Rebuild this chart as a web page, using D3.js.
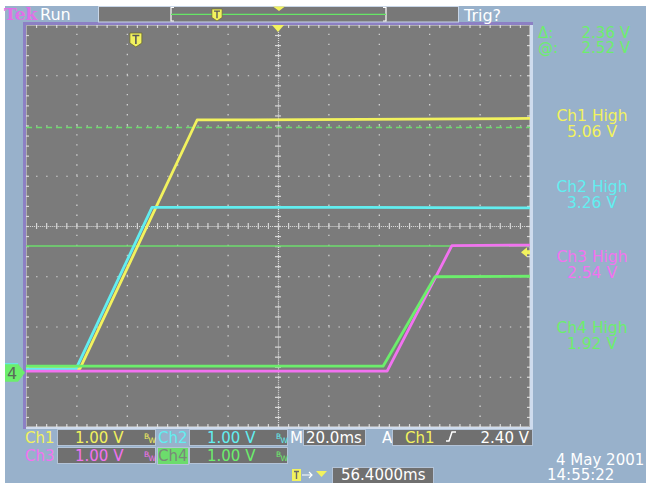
<!DOCTYPE html>
<html><head><meta charset="utf-8">
<script src="https://cdn.jsdelivr.net/npm/d3@7/dist/d3.min.js"></script>
<style>body{margin:0;background:#fff}svg{display:block}text{font-family:"DejaVu Sans",sans-serif}</style>
</head><body>
<svg id="c" width="646" height="483"></svg>
<script>
// ---- settings / data ----
const msPerDiv = 20;           // M 20.0ms
const delayMs = 56.4;          // horizontal delay (screen centre)
const timeDomain = [delayMs - 5 * msPerDiv, delayMs + 5 * msPerDiv];
const vPerDiv = 1.0;
const voltDomain = [-1.08, 6.92];   // 8 divisions, ground near bottom
// traces: [time ms, volts]
const ch1 = [[-43.6, 0.08], [-22.2, 0.08], [24.3, 5.03], [90, 5.04], [156.4, 5.06]];
const ch2 = [[-43.6, 0.07], [-23.8, 0.07], [6.4, 3.29], [90, 3.29], [156.4, 3.28]];
const ch3 = [[-43.6, 0.03], [99.7, 0.03], [125.4, 2.53], [156.4, 2.54]];
const ch4 = [[-43.6, 0.13], [98.1, 0.13], [118.7, 1.91], [156.4, 1.92]];
const channelColors = ["#f2f25e", "#62eef0", "#f272f0", "#6cee6c"];
const cursorAt = 2.52, cursorDelta = 2.36;
const triggerLevel = 2.40;
const highLabels = ["Ch1 High", "Ch2 High", "Ch3 High", "Ch4 High"];
const highValues = ["5.06 V", "3.26 V", "2.54 V", "1.92 V"];
const scaleLabels = ["1.00 V", "1.00 V", "1.00 V", "1.00 V"];

// ---- layout ----
const L = 26, R = 530, T = 25, B = 427;
const svg = d3.select("#c");
const x = d3.scaleLinear().domain(timeDomain).range([L, R]);
const y = d3.scaleLinear().domain(voltDomain).range([B, T]);

svg.append("rect").attr("width", 646).attr("height", 483).attr("fill", "#fff");
svg.append("rect").attr("x", 5).attr("y", 6).attr("width", 641).attr("height", 477).attr("fill", "#98b1cb");

// plot bevel
svg.append("rect").attr("x", 23).attr("y", 22).attr("width", 510).attr("height", 407).attr("fill", "#cfdcee");
svg.append("rect").attr("x", 23).attr("y", 22).attr("width", 510).attr("height", 3).attr("fill", "#8c80c4");
svg.append("rect").attr("x", 23).attr("y", 22).attr("width", 3).attr("height", 407).attr("fill", "#8c80c4");
svg.append("rect").attr("x", L).attr("y", T).attr("width", R - L).attr("height", B - T).attr("fill", "#7b7b7b");

const gridCol = "#d8d8d8";
const minorX = (R - L) / 50, minorY = (B - T) / 40;
const majorT = d3.range(1, 10).filter(i => i !== 5).map(i => timeDomain[0] + i * msPerDiv);
const majorV = d3.range(1, 8).filter(i => i !== 4).map(i => voltDomain[0] + i * vPerDiv);
const minorT = d3.range(1, 50).map(i => timeDomain[0] + i * msPerDiv / 5);
const minorV = d3.range(1, 40).map(i => voltDomain[0] + i * vPerDiv / 5);
const centerT = timeDomain[0] + 5 * msPerDiv, centerV = voltDomain[0] + 4 * vPerDiv;

function styleAxis(g, dash) {
  g.select(".domain").remove();
  g.selectAll("text").remove();
  g.selectAll("line").attr("stroke", gridCol).attr("stroke-width", 1.2);
  if (dash) g.selectAll("line").attr("stroke-dasharray", dash);
}
// dotted major grid
svg.append("g").attr("transform", `translate(0,${B})`)
  .call(d3.axisBottom(x).tickValues(majorT).tickSize(-(B - T)))
  .call(g => styleAxis(g, `1.4 ${minorY - 1.4}`));
svg.append("g").attr("transform", `translate(${L},0)`)
  .call(d3.axisLeft(y).tickValues(majorV).tickSize(-(R - L)))
  .call(g => styleAxis(g, `1.4 ${minorX - 1.4}`));
// centre lines (finer dots)
svg.append("g").attr("transform", `translate(0,${B})`)
  .call(d3.axisBottom(x).tickValues([centerT]).tickSize(-(B - T)))
  .call(g => styleAxis(g, `1.1 ${minorY / 5 - 1.1}`));
svg.append("g").attr("transform", `translate(${L},0)`)
  .call(d3.axisLeft(y).tickValues([centerV]).tickSize(-(R - L)))
  .call(g => styleAxis(g, `1.1 ${minorX / 5 - 1.1}`));
// centre tick marks
svg.append("g").attr("transform", `translate(${x(centerT)},0)`).call(d3.axisLeft(y).tickValues(minorV).tickSize(3)).call(g => styleAxis(g));
svg.append("g").attr("transform", `translate(${x(centerT)},0)`).call(d3.axisRight(y).tickValues(minorV).tickSize(3)).call(g => styleAxis(g));
svg.append("g").attr("transform", `translate(0,${y(centerV)})`).call(d3.axisTop(x).tickValues(minorT).tickSize(3)).call(g => styleAxis(g));
svg.append("g").attr("transform", `translate(0,${y(centerV)})`).call(d3.axisBottom(x).tickValues(minorT).tickSize(3)).call(g => styleAxis(g));
// edge ticks
svg.append("g").attr("transform", `translate(0,${T})`).call(d3.axisTop(x).tickValues(minorT).tickSize(-3)).call(g => styleAxis(g));
svg.append("g").attr("transform", `translate(0,${B})`).call(d3.axisBottom(x).tickValues(minorT).tickSize(-3)).call(g => styleAxis(g));
svg.append("g").attr("transform", `translate(${L},0)`).call(d3.axisLeft(y).tickValues(minorV).tickSize(-3)).call(g => styleAxis(g));
svg.append("g").attr("transform", `translate(${R},0)`).call(d3.axisRight(y).tickValues(minorV).tickSize(-3)).call(g => styleAxis(g));
svg.append("rect").attr("x", L + 0.5).attr("y", T + 0.5).attr("width", R - L - 1).attr("height", B - T - 1)
  .attr("fill", "none").attr("stroke", "#e2e2e2").attr("stroke-dasharray", "1 1");

// cursors
svg.append("line").attr("x1", L).attr("x2", R).attr("y1", y(cursorAt)).attr("y2", y(cursorAt))
  .attr("stroke", "#6cdc6c").attr("stroke-width", 1.5);
svg.append("line").attr("x1", L).attr("x2", R).attr("y1", y(cursorAt + cursorDelta)).attr("y2", y(cursorAt + cursorDelta))
  .attr("stroke", "#6cdc6c").attr("stroke-width", 1.5).attr("stroke-dasharray", "6 4");

// traces
svg.append("clipPath").attr("id", "pc").append("rect").attr("x", L).attr("y", T).attr("width", R - L).attr("height", B - T);
const line = d3.line().x(d => x(d[0])).y(d => y(d[1]));
[ch1, ch2, ch3, ch4].forEach((d, i) => {
  svg.append("path").attr("d", line(d)).attr("clip-path", "url(#pc)").attr("fill", "none")
    .attr("stroke", channelColors[i]).attr("stroke-width", 2.8).attr("stroke-linejoin", "round");
});

// markers
function tIcon(cx, ty, s) {
  const g = svg.append("g").attr("transform", `translate(${cx},${ty}) scale(${s})`);
  g.append("path").attr("d", "M-6,0 L6,0 L6,10 L0,14 L-6,10 Z").attr("fill", "#f2f25e").attr("stroke", "#6a6a30").attr("stroke-width", 0.8);
  g.append("path").attr("d", "M-3.5,2.5 L3.5,2.5 M0,2.5 L0,11").attr("stroke", "#5a5a5a").attr("stroke-width", 1.6);
}
tIcon(x(0), 33, 1);
svg.append("path").attr("d", `M${x(centerT) - 6},${T} L${x(centerT) + 6},${T} L${x(centerT)},${T + 7} Z`).attr("fill", "#f2f25e");
const ty = y(triggerLevel);
svg.append("path").attr("d", `M${R - 9},${ty} L${R - 3},${ty - 5} L${R - 3},${ty - 2} L${R},${ty - 2} L${R},${ty + 2} L${R - 3},${ty + 2} L${R - 3},${ty + 5} Z`).attr("fill", "#f2f25e");
const gy = y(0);
svg.append("path").attr("d", `M5,${gy - 9} L18,${gy - 9} L25,${gy} L18,${gy + 9} L5,${gy + 9} Z`).attr("fill", "#6cee6c");
svg.append("line").attr("x1", 5).attr("x2", 18).attr("y1", gy - 9).attr("y2", gy - 9).attr("stroke", "#62eef0").attr("stroke-width", 1);
svg.append("text").attr("x", 12).attr("y", gy + 6).attr("text-anchor", "middle").attr("font-size", 16).attr("fill", "#5a6a5a").text("4");

// ---- top bar ----
svg.append("text").attr("x", 4).attr("y", 20).style("font-family", "'DejaVu Serif',serif")
  .attr("font-weight", "bold").attr("font-size", 17).attr("fill", "#e070e8").text("Tek");
svg.append("text").attr("x", 40).attr("y", 20).attr("font-size", 16).attr("fill", "#ffffff").text("Run");
svg.append("rect").attr("x", 98.5).attr("y", 6.5).attr("width", 360).attr("height", 15.5).attr("fill", "#787878").attr("stroke", "#c8d6e8");
const bx0 = 171, bx1 = 386;
svg.append("path").attr("d", `M${bx0 + 3},7.5 L${bx0},7.5 L${bx0},21 L${bx0 + 3},21 M${bx1 - 3},7.5 L${bx1},7.5 L${bx1},21 L${bx1 - 3},21`)
  .attr("fill", "none").attr("stroke", "#fff").attr("stroke-width", 1.2);
svg.append("line").attr("x1", bx0).attr("x2", bx1).attr("y1", 14.3).attr("y2", 14.3).attr("stroke", "#66e666").attr("stroke-width", 1.3);
tIcon(217, 9, 0.85);
svg.append("path").attr("d", "M273,6.5 L285,6.5 L279,11 Z").attr("fill", "#f2f25e");
svg.append("text").attr("x", 464).attr("y", 21).attr("font-size", 16).attr("fill", "#fff").text("Trig?");

// ---- right panel ----
const green = "#6cee6c";
svg.append("text").attr("x", 538).attr("y", 38).attr("font-size", 15).attr("fill", green).text("\u0394:");
svg.append("text").attr("x", 630).attr("y", 38).attr("text-anchor", "end").attr("font-size", 15).attr("fill", green).text(cursorDelta.toFixed(2) + " V");
svg.append("text").attr("x", 538).attr("y", 53).attr("font-size", 15).attr("fill", green).text("@:");
svg.append("text").attr("x", 630).attr("y", 53).attr("text-anchor", "end").attr("font-size", 15).attr("fill", green).text(cursorAt.toFixed(2) + " V");
const labelY = [121, 192, 262, 333];
highLabels.forEach((t, i) => {
  svg.append("text").attr("x", 592).attr("y", labelY[i]).attr("text-anchor", "middle").attr("font-size", 15.5).attr("fill", channelColors[i]).text(t);
  svg.append("text").attr("x", 592).attr("y", labelY[i] + 15.5).attr("text-anchor", "middle").attr("font-size", 15.5).attr("fill", channelColors[i]).text(highValues[i]);
});

// ---- bottom readouts ----
function box(x0, y0, w, h, fill) {
  svg.append("rect").attr("x", x0 + 0.5).attr("y", y0 + 0.5).attr("width", w).attr("height", h).attr("fill", fill || "#707070").attr("stroke", "#b4c4d8");
}
function bw(xx, yy, c) {
  svg.append("text").attr("x", xx).attr("y", yy).attr("font-size", 7.5).attr("fill", c).text("B");
  svg.append("text").attr("x", xx + 4.5).attr("y", yy + 4).attr("font-size", 7.5).attr("fill", c).text("W");
}
const rowY = [443, 461];
const chX = [[25, 57], [158, 189], [25, 57], [158, 189]];
[0, 1, 2, 3].forEach(i => {
  const r = i < 2 ? 0 : 1;
  const lx = chX[i][0], bxs = chX[i][1];
  if (i === 3) box(157, 447, 31, 17, "#6cdc6c");
  svg.append("text").attr("x", lx).attr("y", rowY[r]).attr("font-size", 15).attr("fill", i === 3 ? "#7a887a" : channelColors[i]).text("Ch" + (i + 1));
  box(bxs, r ? 447 : 429, 98, 16);
  svg.append("text").attr("x", bxs + 18).attr("y", rowY[r]).attr("font-size", 15).attr("fill", channelColors[i]).text(scaleLabels[i]);
  bw(bxs + 87, rowY[r] - 4, channelColors[i]);
});
svg.append("text").attr("x", 290).attr("y", 443).attr("font-size", 15).attr("fill", "#fff").text("M");
box(303, 429, 62, 16);
svg.append("text").attr("x", 306).attr("y", 443).attr("font-size", 15).attr("fill", "#fff").text(msPerDiv.toFixed(1) + "ms");
svg.append("text").attr("x", 382).attr("y", 443).attr("font-size", 15).attr("fill", "#fff").text("A");
box(392, 429, 140, 16);
svg.append("text").attr("x", 405).attr("y", 443).attr("font-size", 15).attr("fill", channelColors[0]).text("Ch1");
svg.append("path").attr("d", "M446,441 L449,441 L452,432 L456,432").attr("fill", "none").attr("stroke", "#fff").attr("stroke-width", 1.5);
svg.append("text").attr("x", 529).attr("y", 443).attr("text-anchor", "end").attr("font-size", 15).attr("fill", "#fff").text(triggerLevel.toFixed(2) + " V");

// delay row
svg.append("rect").attr("x", 292).attr("y", 469).attr("width", 9).attr("height", 12).attr("fill", "#f2f25e");
svg.append("path").attr("d", "M294,471.5 L299,471.5 M296.5,471.5 L296.5,479").attr("stroke", "#6a6a6a").attr("stroke-width", 1.4);
svg.append("path").attr("d", "M302,475 L312,475 M309,472 L312,475 L309,478").attr("fill", "none").attr("stroke", "#fff").attr("stroke-width", 1.2);
svg.append("path").attr("d", "M316,471 L327,471 L321.5,477 Z").attr("fill", "#f2f25e");
box(332, 467, 101, 16);
svg.append("text").attr("x", 341).attr("y", 480).attr("font-size", 15).attr("fill", "#fff").text(delayMs.toFixed(4) + "ms");
svg.append("text").attr("x", 556).attr("y", 465).attr("font-size", 15).attr("fill", "#fff").text("4 May 2001");
svg.append("text").attr("x", 547).attr("y", 480).attr("font-size", 15).attr("fill", "#fff").text("14:55:22");
</script>
</body></html>
